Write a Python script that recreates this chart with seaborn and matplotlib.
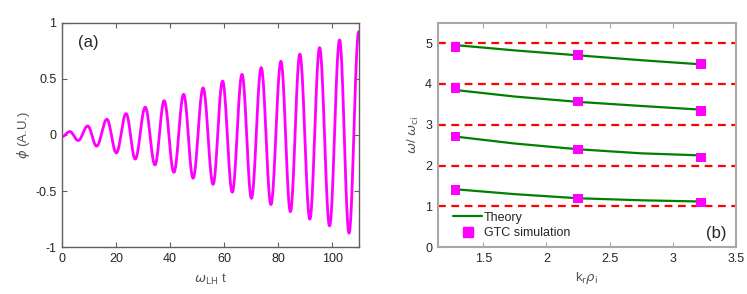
import numpy as np
import pandas as pd
import matplotlib
matplotlib.use('Agg')
import matplotlib.pyplot as plt
import seaborn as sns
from matplotlib.lines import Line2D

# (a) extremos do sinal
t_ext = [0, 2.9, 6.0, 9.5, 12.8, 16.6, 20.1, 23.7, 27.1, 30.8, 34.4, 37.8,
         41.4, 45.0, 48.5, 52.2, 55.9, 59.4, 63.0, 66.6, 70.1, 73.7, 77.3,
         81.0, 84.5, 88.0, 91.7, 95.3, 99.0, 102.7, 106.2, 109.8]
phi_ext = [-0.015, 0.03, -0.05, 0.08, -0.10, 0.14, -0.16, 0.19, -0.215, 0.247,
           -0.267, 0.305, -0.333, 0.362, -0.386, 0.419, -0.44, 0.48, -0.51,
           0.54, -0.564, 0.60, -0.62, 0.656, -0.683, 0.72, -0.75, 0.777,
           -0.81, 0.846, -0.875, 0.92]

# (b) teoria e simulacao
kr_theory = [1.28, 1.75, 2.25, 2.75, 3.22]
theory_1 = [1.42, 1.30, 1.20, 1.15, 1.12]
theory_2 = [2.71, 2.54, 2.40, 2.30, 2.25]
theory_3 = [3.85, 3.69, 3.56, 3.46, 3.37]
theory_4 = [4.95, 4.82, 4.70, 4.58, 4.48]
kr_sim = [1.28, 2.25, 3.225]
sim_1 = [1.40, 1.195, 1.10]
sim_2 = [2.71, 2.39, 2.195]
sim_3 = [3.895, 3.57, 3.33]
sim_4 = [4.90, 4.70, 4.48]
harmonics = [1, 2, 3, 4, 5]

xticks_a = [0, 20, 40, 60, 80, 100]
yticks_a = [-1, -0.5, 0, 0.5, 1]
yticklabels_a = ['-1', '-0.5', '0', '0.5', '1']
xticks_b = [1.5, 2, 2.5, 3, 3.5]
xticklabels_b = ['1.5', '2', '2.5', '3', '3.5']
yticks_b = [0, 1, 2, 3, 4, 5]

sns.set_style('ticks')
plt.rcParams['font.family'] = ['Liberation Sans', 'DejaVu Sans']
plt.rcParams['mathtext.fontset'] = 'dejavusans'
plt.rcParams['font.size'] = 9

# curva suave entre extremos (meio cosseno)
tt, pp = [], []
for i in range(len(t_ext) - 1):
    s = np.linspace(0, 1, 30, endpoint=False)
    tt.extend(t_ext[i] + (t_ext[i + 1] - t_ext[i]) * s)
    pp.extend(phi_ext[i] + (phi_ext[i + 1] - phi_ext[i]) * (1 - np.cos(np.pi * s)) / 2)
tt.append(t_ext[-1])
pp.append(phi_ext[-1])
df_a = pd.DataFrame({'t': tt, 'phi': pp})

fig = plt.figure(figsize=(7.47, 2.94), dpi=100)
ax1 = fig.add_axes([0.083, 0.159, 0.398, 0.764])
ax2 = fig.add_axes([0.586, 0.159, 0.399, 0.764])

# Painel (a)
sns.lineplot(data=df_a, x='t', y='phi', ax=ax1, color='#ff00ff', lw=2.0,
             sort=False, estimator=None)
ax1.set_xlim(0, 110)
ax1.set_ylim(-1, 1)
ax1.set_xticks(xticks_a)
ax1.set_yticks(yticks_a)
ax1.set_yticklabels(yticklabels_a)
ax1.set_xlabel(r'$\omega_{\rm LH}$ t', color='#555555', fontsize=9.5, labelpad=5)
ax1.set_ylabel(r'$\phi$ (A.U.)', color='#555555', fontsize=9.5, labelpad=2)
ax1.text(0.055, 0.945, '(a)', transform=ax1.transAxes, fontsize=12,
         va='top', ha='left')

# Painel (b)
for h in harmonics:
    ax2.axhline(h, color='#ff0000', lw=1.6, ls=(0, (3.5, 2.5)), zorder=1)
for th in [theory_1, theory_2, theory_3, theory_4]:
    sns.lineplot(x=kr_theory, y=th, ax=ax2, color='#008000', lw=1.6, zorder=2)
for sm in [sim_1, sim_2, sim_3, sim_4]:
    sns.scatterplot(x=kr_sim, y=sm, ax=ax2, color='#ff00ff', marker='s', s=48,
                    edgecolor='none', zorder=3)
ax2.set_xlim(1.14, 3.5)
ax2.set_ylim(0, 5.5)
ax2.set_xticks(xticks_b)
ax2.set_xticklabels(xticklabels_b)
ax2.set_yticks(yticks_b)
ax2.set_xlabel(r'k$_{\rm r}$$\rho_{\rm i}$', color='#555555', fontsize=9.5, labelpad=4)
ax2.set_ylabel(r'$\omega$/ $\omega_{\rm ci}$', color='#555555', fontsize=9.5, labelpad=3)
ax2.text(0.97, 0.03, '(b)', transform=ax2.transAxes, fontsize=12,
         va='bottom', ha='right')
handles = [Line2D([], [], color='#008000', lw=1.6),
           Line2D([], [], color='#ff00ff', marker='s', ls='none', markersize=7)]
ax2.legend(handles, ['Theory', 'GTC simulation'], loc='lower left',
           bbox_to_anchor=(0.035, 0.015), frameon=False, fontsize=9,
           handlelength=2.3, handletextpad=0.15, labelspacing=0.25,
           borderaxespad=0)

for ax, sc, lw in [(ax1, '#606060', 1.0), (ax2, '#a8a8a8', 1.5)]:
    for sp in ax.spines.values():
        sp.set_visible(True)
        sp.set_color(sc)
        sp.set_linewidth(lw)
    ax.tick_params(direction='in', length=3.5, width=0.8, colors=sc,
                   labelcolor='#262626', labelsize=9, top=True, right=True,
                   pad=4)

plt.savefig('out.png', dpi=100)
